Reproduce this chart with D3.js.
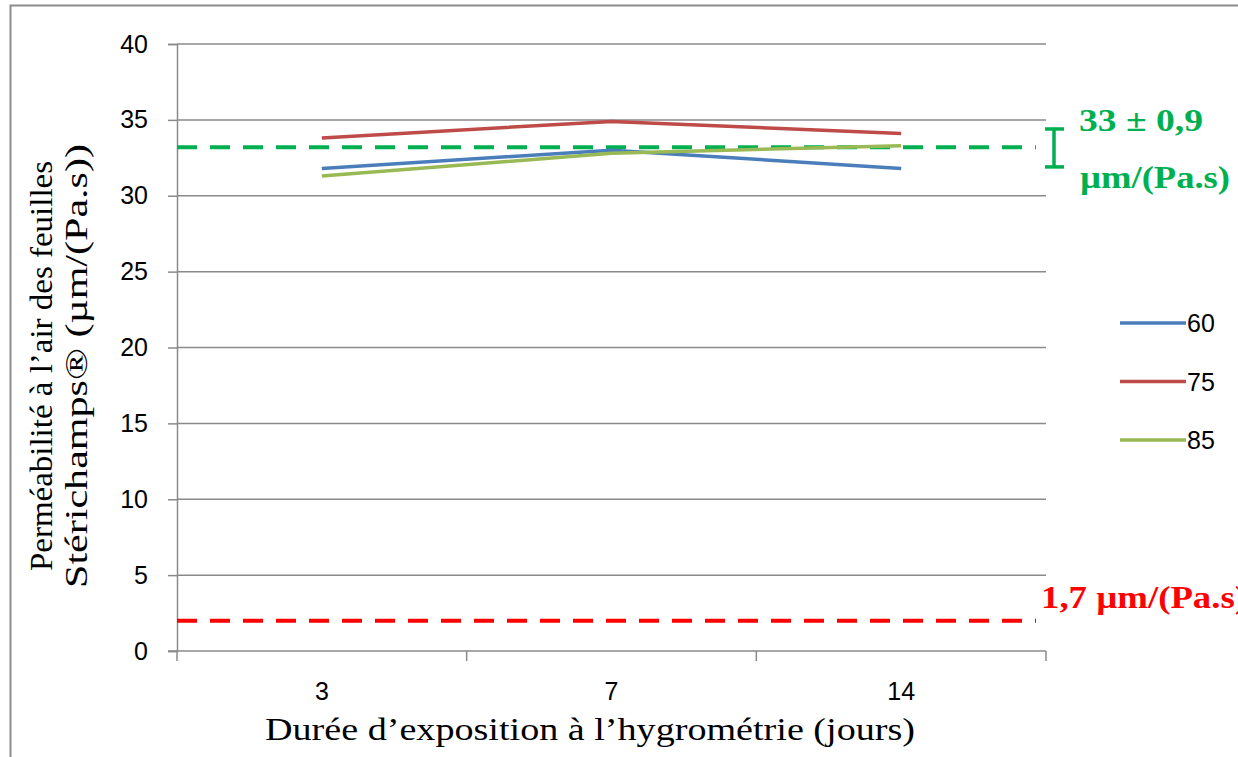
<!DOCTYPE html>
<html>
<head>
<meta charset="utf-8">
<script src="https://cdn.jsdelivr.net/npm/d3@7"></script>
<style>
  body { margin: 0; background: #fff; }
  svg { display: block; }
</style>
</head>
<body>
<div id="chart"></div>
<script>
var categories = ["3", "7", "14"];
var seriesNames = ["60", "75", "85"];
var values60 = [31.8, 33.0, 31.8];
var values75 = [33.8, 34.9, 34.1];
var values85 = [31.3, 32.8, 33.3];
var yTicks = [0, 5, 10, 15, 20, 25, 30, 35, 40];
var greenRef = 33.2, greenErrLow = 31.9, greenErrHigh = 34.4;
var redRef = 2.0;

var width = 1238, height = 757;
var colors = ["#4A7EBB", "#BE4B48", "#98B954"];
var sans = "'Liberation Sans', Arial, sans-serif";
var serif = "'Liberation Serif', 'Times New Roman', serif";

var svg = d3.select("#chart").append("svg")
    .attr("width", width).attr("height", height);

// outer frame
svg.append("rect")
    .attr("x", 10.5).attr("y", 5.5)
    .attr("width", 1240).attr("height", 760)
    .attr("fill", "none").attr("stroke", "#8c8c8c").attr("stroke-width", 2);

var pLeft = 177, pRight = 1046, pTop = 44, pBottom = 651;

var x = d3.scaleBand().domain(categories).range([pLeft, pRight]);
var y = d3.scaleLinear().domain([0, 40]).range([pBottom, pTop]);

// gridlines
svg.append("g").selectAll("line")
    .data(yTicks.filter(function(d) { return d > 0; }))
    .enter().append("line")
    .attr("x1", pLeft).attr("x2", pRight)
    .attr("y1", function(d) { return y(d); })
    .attr("y2", function(d) { return y(d); })
    .attr("stroke", "#8a8a8a").attr("stroke-width", 1.5);

// y axis
var yAxis = svg.append("g")
    .attr("transform", "translate(" + pLeft + ",0)")
    .call(d3.axisLeft(y).tickValues(yTicks).tickSize(9).tickPadding(20));
yAxis.select(".domain").attr("stroke", "#8a8a8a").attr("stroke-width", 1.5);
yAxis.selectAll(".tick line").attr("stroke", "#8a8a8a").attr("stroke-width", 1.5);
yAxis.selectAll("text")
    .style("font", "25px " + sans)
    .attr("fill", "#000");

// x axis line and category boundary ticks
svg.append("line")
    .attr("x1", pLeft - 9).attr("x2", pRight)
    .attr("y1", pBottom).attr("y2", pBottom)
    .attr("stroke", "#8a8a8a").attr("stroke-width", 1.5);
var bounds = categories.map(function(c) { return x(c); }).concat([pRight]);
svg.append("g").selectAll("line")
    .data(bounds).enter().append("line")
    .attr("x1", function(d) { return d; }).attr("x2", function(d) { return d; })
    .attr("y1", pBottom).attr("y2", pBottom + 10)
    .attr("stroke", "#8a8a8a").attr("stroke-width", 1.5);
svg.append("g").selectAll("text")
    .data(categories).enter().append("text")
    .attr("x", function(d) { return x(d) + x.bandwidth() / 2; })
    .attr("y", 700)
    .attr("text-anchor", "middle")
    .style("font", "25px " + sans)
    .text(function(d) { return d; });

// reference lines
svg.append("line")
    .attr("x1", pLeft).attr("x2", 1036)
    .attr("y1", y(greenRef)).attr("y2", y(greenRef))
    .attr("stroke", "#00B050").attr("stroke-width", 4)
    .attr("stroke-dasharray", "20,13");
svg.append("line")
    .attr("x1", pLeft).attr("x2", 1036)
    .attr("y1", y(redRef)).attr("y2", y(redRef))
    .attr("stroke", "#FF0000").attr("stroke-width", 4)
    .attr("stroke-dasharray", "20,13");

// error bar
var eb = svg.append("g").attr("stroke", "#00B050").attr("stroke-width", 3.5);
eb.append("line").attr("x1", 1054).attr("x2", 1054)
    .attr("y1", y(greenErrHigh)).attr("y2", y(greenErrLow));
eb.append("line").attr("x1", 1045).attr("x2", 1064)
    .attr("y1", y(greenErrHigh)).attr("y2", y(greenErrHigh));
eb.append("line").attr("x1", 1045).attr("x2", 1064)
    .attr("y1", y(greenErrLow)).attr("y2", y(greenErrLow));

// series
var series = [values60, values75, values85];
var line = d3.line()
    .x(function(d, i) { return x(categories[i]) + x.bandwidth() / 2; })
    .y(function(d) { return y(d); });
series.forEach(function(s, i) {
  svg.append("path")
    .attr("d", line(s))
    .attr("fill", "none")
    .attr("stroke", colors[i])
    .attr("stroke-width", 3.5);
});

// legend
var legend = svg.selectAll(".legend")
    .data(seriesNames).enter().append("g")
    .attr("class", "legend")
    .attr("transform", function(d, i) { return "translate(1120," + (323 + i * 58.5) + ")"; });
legend.append("line")
    .attr("x1", 0).attr("x2", 66)
    .attr("stroke", function(d, i) { return colors[i]; })
    .attr("stroke-width", 3.5);
legend.append("text")
    .attr("x", 67).attr("y", 9)
    .style("font", "25px " + sans)
    .text(function(d) { return d; });

// annotations
svg.append("text")
    .attr("x", 1079).attr("y", 131)
    .attr("fill", "#00B050")
    .attr("textLength", 124).attr("lengthAdjust", "spacingAndGlyphs")
    .style("font", "bold 31px " + serif)
    .text("33 ± 0,9");
svg.append("text")
    .attr("x", 1080).attr("y", 188)
    .attr("fill", "#00B050")
    .attr("textLength", 150).attr("lengthAdjust", "spacingAndGlyphs")
    .style("font", "bold 31px " + serif)
    .text("µm/(Pa.s)");
svg.append("text")
    .attr("x", 1041).attr("y", 608)
    .attr("fill", "#FF0000")
    .attr("textLength", 206).attr("lengthAdjust", "spacingAndGlyphs")
    .style("font", "bold 31px " + serif)
    .text("1,7 µm/(Pa.s)");

// axis titles
svg.append("text")
    .attr("x", 265).attr("y", 740)
    .attr("textLength", 650).attr("lengthAdjust", "spacingAndGlyphs")
    .style("font", "31px " + serif)
    .text("Durée d’exposition à l’hygrométrie (jours)");
var yt = svg.append("g").attr("transform", "translate(0,366) rotate(-90)")
    .style("font", "31px " + serif);
yt.append("text").attr("x", -205).attr("y", 52)
    .attr("textLength", 410).attr("lengthAdjust", "spacingAndGlyphs")
    .text("Perméabilité à l’air des feuilles");
yt.append("text").attr("x", -222).attr("y", 87)
    .attr("textLength", 444).attr("lengthAdjust", "spacingAndGlyphs")
    .text("Stérichamps® (µm/(Pa.s))");
</script>
</body>
</html>
